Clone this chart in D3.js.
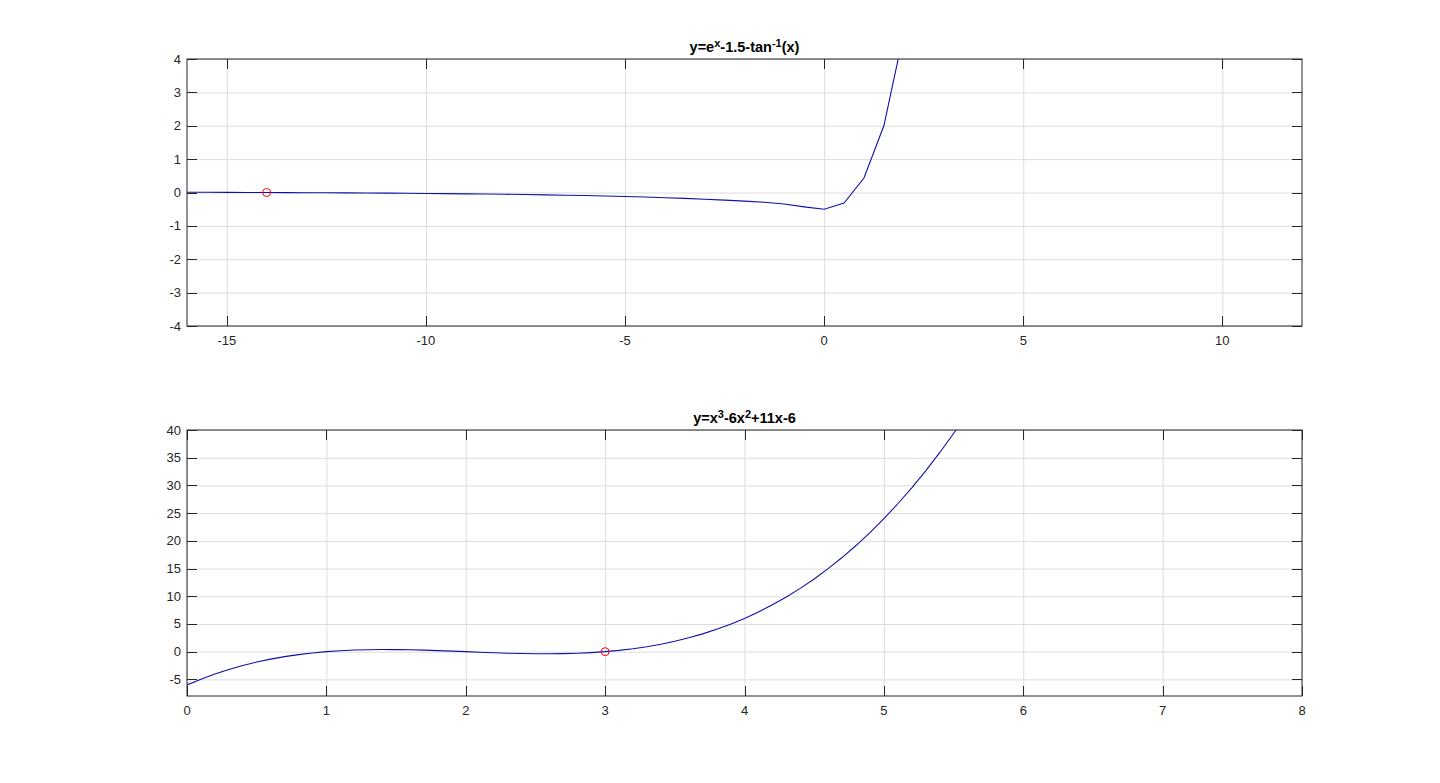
<!DOCTYPE html>
<html>
<head>
<meta charset="utf-8">
<script src="https://cdn.jsdelivr.net/npm/d3@7"></script>
<style>
  body { margin: 0; background: #fff; }
  text { font-family: "Liberation Sans", Arial, sans-serif; fill: #262626; }
  .grid line { stroke: #dcdcdc; stroke-width: 1; }
  .grid path { display: none; }
</style>
</head>
<body>
<div id="chart"></div>
<script>
// Top subplot: y = e^x - 1.5 - atan(x), sampled every 0.5
const topX = [-16, -15.5, -15, -14.5, -14, -13.5, -13, -12.5, -12, -11.5, -11, -10.5, -10,
  -9.5, -9, -8.5, -8, -7.5, -7, -6.5, -6, -5.5, -5, -4.5, -4, -3.5, -3, -2.5, -2, -1.5,
  -1, -0.5, 0, 0.5, 1, 1.5, 2, 2.5];
const topY = [0.0084, 0.0064, 0.0042, 0.0020, -0.0005, -0.0031, -0.0060, -0.0090, -0.0123,
  -0.0160, -0.0199, -0.0242, -0.0289, -0.0340, -0.0398, -0.0461, -0.0533, -0.0612, -0.0702,
  -0.0803, -0.0919, -0.1050, -0.1199, -0.1368, -0.1559, -0.1773, -0.2012, -0.2276, -0.2575,
  -0.2941, -0.3467, -0.4298, -0.5, -0.3149, 0.4329, 1.9989, 4.7818, 9.492];
const topRoot = [-14, 0];
const topXTicks = [-15, -10, -5, 0, 5, 10];
const topYTicks = [-4, -3, -2, -1, 0, 1, 2, 3, 4];

// Bottom subplot: y = x^3 - 6x^2 + 11x - 6, sampled every 0.1
const botX = [0, 0.1, 0.2, 0.3, 0.4, 0.5, 0.6, 0.7, 0.8, 0.9, 1, 1.1, 1.2, 1.3, 1.4, 1.5, 1.6,
  1.7, 1.8, 1.9, 2, 2.1, 2.2, 2.3, 2.4, 2.5, 2.6, 2.7, 2.8, 2.9, 3, 3.1, 3.2, 3.3, 3.4, 3.5,
  3.6, 3.7, 3.8, 3.9, 4, 4.1, 4.2, 4.3, 4.4, 4.5, 4.6, 4.7, 4.8, 4.9, 5, 5.1, 5.2, 5.3, 5.4,
  5.5, 5.6];
const botY = [-6, -4.959, -4.032, -3.213, -2.496, -1.875, -1.344, -0.897, -0.528, -0.231, 0,
  0.171, 0.288, 0.357, 0.384, 0.375, 0.336, 0.273, 0.192, 0.099, 0, -0.099, -0.192, -0.273,
  -0.336, -0.375, -0.384, -0.357, -0.288, -0.171, 0, 0.231, 0.528, 0.897, 1.344, 1.875, 2.496,
  3.213, 4.032, 4.959, 6, 7.161, 8.448, 9.867, 11.424, 13.125, 14.976, 16.983, 19.152, 21.489,
  24, 26.691, 29.568, 32.637, 35.904, 39.375, 43.056];
const botRoot = [3, 0];
const botXTicks = [0, 1, 2, 3, 4, 5, 6, 7, 8];
const botYTicks = [-5, 0, 5, 10, 15, 20, 25, 30, 35, 40];

const width = 1440;
const height = 783;

const svg = d3.select('#chart')
  .append('svg')
  .attr('width', width)
  .attr('height', height);

// draws one MATLAB-style subplot
function subplot(opts) {
  const { id, box, xDomain, yDomain, xs, ys, root, xTicks, yTicks, title } = opts;
  const w = box.right - box.left;
  const h = box.bottom - box.top;
  const g = svg.append('g').attr('transform', `translate(${box.left},${box.top})`);

  const x = d3.scaleLinear().domain(xDomain).range([0, w]);
  const y = d3.scaleLinear().domain(yDomain).range([h, 0]);

  // grid
  g.append('g').attr('class', 'grid')
    .attr('transform', `translate(0,${h})`)
    .call(d3.axisBottom(x).tickValues(xTicks).tickSize(-h).tickFormat(''));
  g.append('g').attr('class', 'grid')
    .call(d3.axisLeft(y).tickValues(yTicks).tickSize(-w).tickFormat(''));

  // curve, clipped to plot area
  svg.append('defs').append('clipPath').attr('id', id)
    .append('rect').attr('width', w).attr('height', h);
  const line = d3.line().x(d => x(d[0])).y(d => y(d[1]));
  g.append('path')
    .datum(xs.map((v, i) => [v, ys[i]]))
    .attr('clip-path', `url(#${id})`)
    .attr('d', line)
    .attr('fill', 'none')
    .attr('stroke', '#1010a8')
    .attr('stroke-width', 1.1);

  g.append('circle')
    .attr('cx', x(root[0]))
    .attr('cy', y(root[1]))
    .attr('r', 4)
    .attr('fill', 'none')
    .attr('stroke', '#ff0000')
    .attr('stroke-width', 1);

  // box
  g.append('rect')
    .attr('width', w).attr('height', h)
    .attr('fill', 'none').attr('stroke', '#262626').attr('stroke-width', 1);

  // inward ticks on all four sides
  const tl = 10;
  xTicks.forEach(t => {
    const px = Math.round(x(t)) + 0.5;
    g.append('line').attr('x1', px).attr('x2', px).attr('y1', h).attr('y2', h - tl).attr('stroke', '#262626');
    g.append('line').attr('x1', px).attr('x2', px).attr('y1', 0).attr('y2', tl).attr('stroke', '#262626');
    g.append('text')
      .attr('x', x(t)).attr('y', h + 19)
      .attr('text-anchor', 'middle')
      .style('font-size', '13px')
      .text(t);
  });
  yTicks.forEach(t => {
    const py = Math.round(y(t)) + 0.5;
    g.append('line').attr('x1', 0).attr('x2', tl).attr('y1', py).attr('y2', py).attr('stroke', '#262626');
    g.append('line').attr('x1', w).attr('x2', w - tl).attr('y1', py).attr('y2', py).attr('stroke', '#262626');
    g.append('text')
      .attr('x', -6).attr('y', y(t) + 4.5)
      .attr('text-anchor', 'end')
      .style('font-size', '13px')
      .text(t);
  });

  // title with superscripts
  const tt = g.append('text')
    .attr('x', w / 2).attr('y', -7)
    .attr('text-anchor', 'middle')
    .style('font-size', '14.5px')
    .style('font-weight', 'bold')
    .style('fill', '#000');
  title.forEach(part => {
    tt.append('tspan')
      .attr('baseline-shift', part.sup ? '45%' : null)
      .style('font-size', part.sup ? '11px' : null)
      .text(part.t);
  });
}

subplot({
  id: 'clipTop',
  box: { left: 187, right: 1302, top: 59, bottom: 326 },
  xDomain: [-16, 12], yDomain: [-4, 4],
  xs: topX, ys: topY, root: topRoot,
  xTicks: topXTicks, yTicks: topYTicks,
  title: [{ t: 'y=e' }, { t: 'x', sup: true }, { t: '-1.5-tan' }, { t: '-1', sup: true }, { t: '(x)' }]
});

subplot({
  id: 'clipBot',
  box: { left: 187, right: 1302, top: 430, bottom: 696 },
  xDomain: [0, 8], yDomain: [-8, 40],
  xs: botX, ys: botY, root: botRoot,
  xTicks: botXTicks, yTicks: botYTicks,
  title: [{ t: 'y=x' }, { t: '3', sup: true }, { t: '-6x' }, { t: '2', sup: true }, { t: '+11x-6' }]
});
</script>
</body>
</html>
